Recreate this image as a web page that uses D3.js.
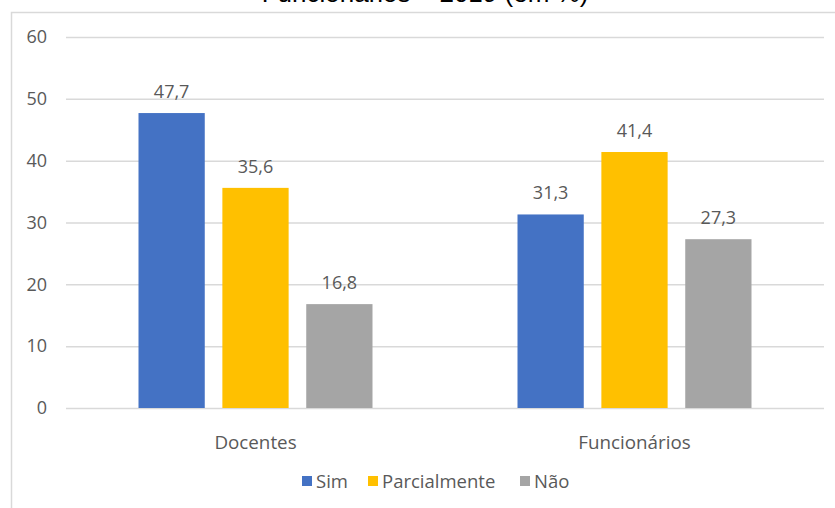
<!DOCTYPE html>
<html>
<head>
<meta charset="utf-8">
<script src="https://cdn.jsdelivr.net/npm/d3@7"></script>
<style>
  body { margin: 0; background: #fff; }
  svg { display: block; }
  .lbl { font-family: "Open Sans", sans-serif; fill: #595959; }
</style>
</head>
<body>
<div id="chart"></div>
<script>
var categories = ['Docentes', 'Funcionários'];
var series = ['Sim', 'Parcialmente', 'Não'];
var values = {
    'Sim': [47.7, 31.3]
  , 'Parcialmente': [35.6, 41.4]
  , 'Não': [16.8, 27.3]
};
var yTicks = [0, 10, 20, 30, 40, 50, 60];
var colors = ['#4472C4', '#FFC000', '#A5A5A5'];

var W = 835, H = 508
  , plot = {left: 66, right: 824, top: 37, bottom: 408};

var svg = d3.select('#chart').append('svg')
    .attr('width', W).attr('height', H);

// title (cut off at the top of the crop, as in the source)
svg.append('text')
    .attr('x', 425).attr('y', 2)
    .attr('text-anchor', 'middle')
    .style('font-family', 'Arial, "Liberation Sans", sans-serif')
    .style('font-size', '26px')
    .style('fill', '#000')
    .text('Funcionários – 2019 (em %)');

// chart frame
svg.append('path')
    .attr('d', 'M11.5,' + H + 'V12.5H' + W)
    .attr('fill', 'none')
    .attr('stroke', '#d9d9d9')
    .attr('stroke-width', 1.5);

var x0 = d3.scaleBand().domain(categories)
        .range([plot.left, plot.right])
  , x1 = d3.scaleBand().domain(series)
        .range([72.5, x0.bandwidth() - 72.5]).paddingInner(0.21)
  , y = d3.scaleLinear().domain([0, 60]).range([plot.bottom, plot.top]);

var yaxis = d3.axisLeft(y).tickValues(yTicks)
        .tickSize(-(plot.right - plot.left)).tickPadding(19);

var gy = svg.append('g')
    .attr('transform', 'translate(' + [plot.left, 0] + ')')
    .call(yaxis);
gy.select('.domain').remove();
gy.selectAll('.tick line').attr('stroke', '#d9d9d9').attr('stroke-width', 1.5);
gy.selectAll('.tick text').attr('class', 'lbl')
    .style('font-size', '18px');

var xaxis = d3.axisBottom(x0).tickSize(0).tickPadding(28);
var gx = svg.append('g')
    .attr('transform', 'translate(' + [0, plot.bottom] + ')')
    .call(xaxis);
gx.select('.domain').remove();
gx.selectAll('.tick text').attr('class', 'lbl')
    .style('font-size', '18.8px');

var groups = svg.append('g').selectAll('g.grp')
    .data(categories)
    .enter().append('g').classed('grp', true)
    .attr('transform', function(c){ return 'translate(' + [x0(c), 0] + ')'; });

groups.each(function(c, ci){
    var g = d3.select(this);
    series.forEach(function(s, si){
        var v = values[s][ci];
        g.append('rect')
            .attr('x', x1(s)).attr('width', x1.bandwidth())
            .attr('y', y(v)).attr('height', y(0) - y(v))
            .attr('fill', colors[si]);
        g.append('text').attr('class', 'lbl')
            .attr('x', x1(s) + x1.bandwidth() / 2)
            .attr('y', y(v) - 15)
            .attr('text-anchor', 'middle')
            .style('font-size', '18px')
            .text(String(v).replace('.', ','));
    });
});

// legend
var legendX = [302, 368, 520];
var legend = svg.append('g').selectAll('g.leg')
    .data(series)
    .enter().append('g').classed('leg', true)
    .attr('transform', function(d, i){ return 'translate(' + [legendX[i], 476] + ')'; });
legend.append('rect')
    .attr('width', 10).attr('height', 10)
    .attr('fill', function(d, i){ return colors[i]; });
legend.append('text').attr('class', 'lbl')
    .attr('x', 14).attr('y', 11.5)
    .style('font-size', '18.5px')
    .text(function(d){ return d; });
</script>
</body>
</html>
